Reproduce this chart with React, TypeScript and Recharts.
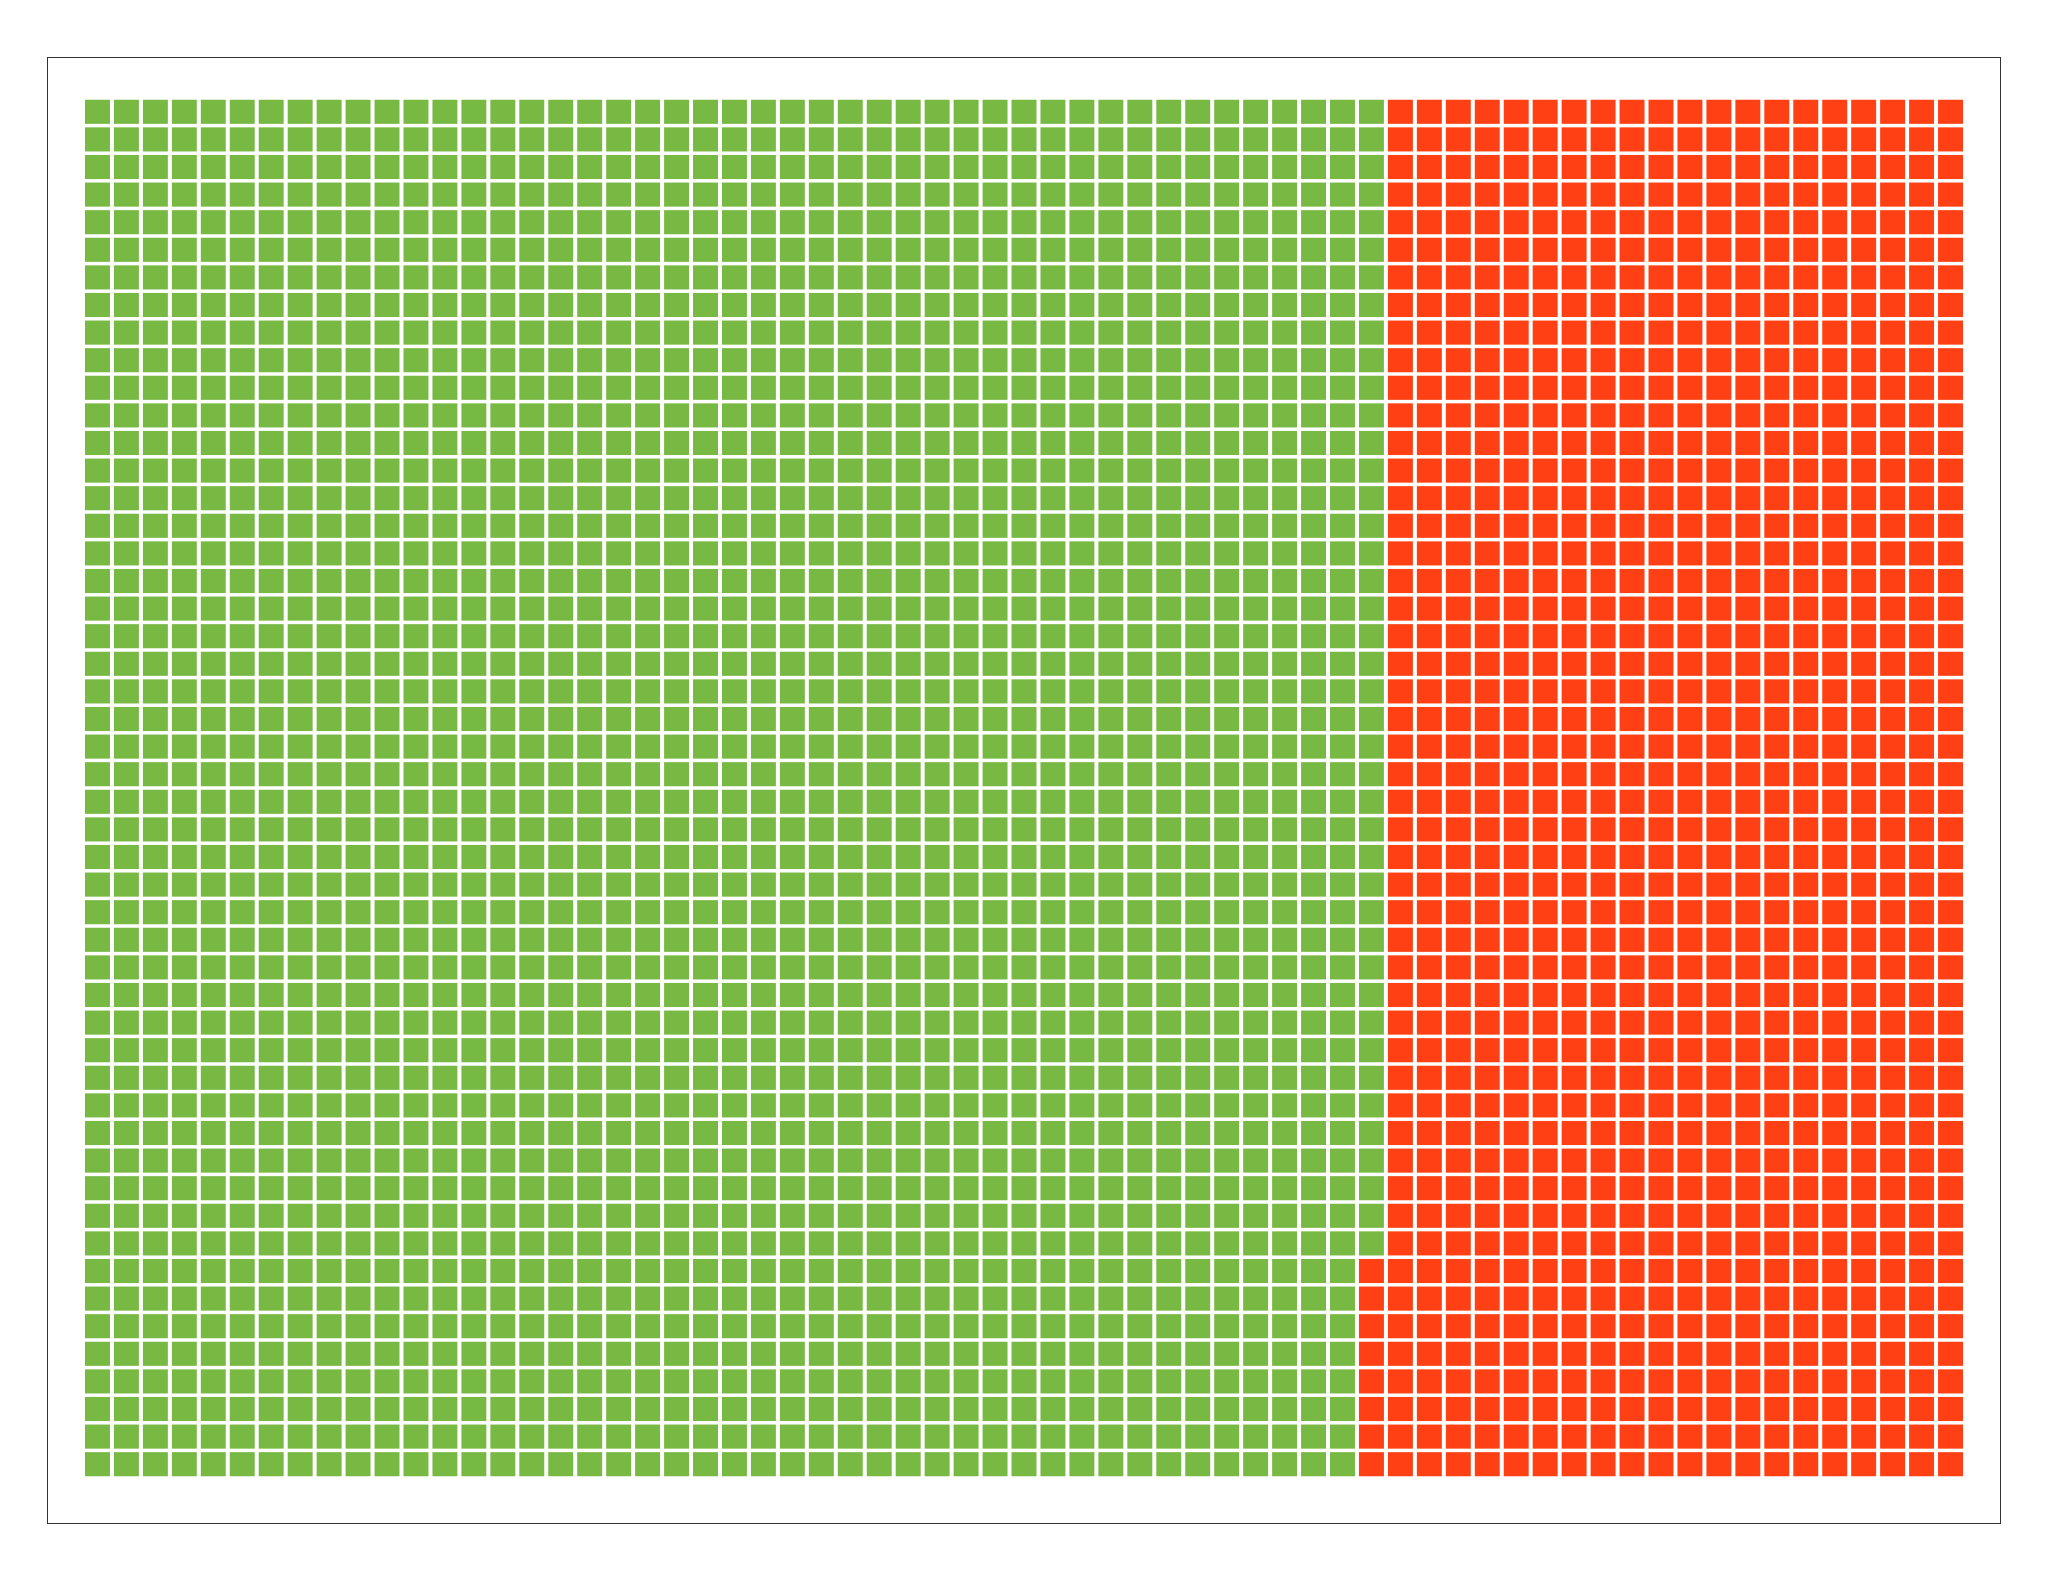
import React from 'react';
import { ScatterChart, Scatter, XAxis, YAxis } from 'recharts';

// waffle: one square per unit, filled column by column, top to bottom
const categories = ['Green', 'Red'];
const counts = [2242, 1008];
const COLORS = ['#78b943', '#ff4015'];
const ROWS = 50;
const COLUMNS = 65;

const WIDTH = 2048;
const HEIGHT = 1582;
const MARGIN = { top: 98, right: 83, bottom: 104, left: 83 };
const PLOT_W = WIDTH - MARGIN.left - MARGIN.right;
const PLOT_H = HEIGHT - MARGIN.top - MARGIN.bottom;
const CELL_W = PLOT_W / COLUMNS - 4;
const CELL_H = PLOT_H / ROWS - 3.5;

const series = categories.map((name, c) => {
  const start = counts.slice(0, c).reduce((a, b) => a + b, 0);
  const points = [];
  for (let n = 0; n < counts[c]; n++) {
    const k = start + n;
    points.push({ col: Math.floor(k / ROWS), row: k % ROWS });
  }
  return { name, points };
});

const Square = (props: any) => {
  const { cx, cy, fill } = props;
  return <rect x={cx - CELL_W / 2} y={cy - CELL_H / 2} width={CELL_W} height={CELL_H} fill={fill} />;
};

const App: React.FC = () => {
  return (
    <div style={{ position: 'absolute', left: 0, top: 0, width: WIDTH, height: HEIGHT, background: '#fff' }}>
      <div
        style={{
          position: 'absolute',
          left: 47,
          top: 57,
          width: 1954,
          height: 1467,
          border: '1.5px solid #333',
          boxSizing: 'border-box',
        }}
      />
      <div style={{ position: 'absolute', left: 0, top: 0 }}>
        <ScatterChart width={WIDTH} height={HEIGHT} margin={MARGIN}>
          <XAxis type="number" dataKey="col" domain={[-0.5, COLUMNS - 0.5]} hide />
          <YAxis type="number" dataKey="row" domain={[-0.5, ROWS - 0.5]} reversed hide />
          {series.map((s, i) => (
            <Scatter
              key={s.name}
              name={s.name}
              data={s.points}
              fill={COLORS[i]}
              shape={Square}
              isAnimationActive={false}
            />
          ))}
        </ScatterChart>
      </div>
    </div>
  );
};

export default App;
